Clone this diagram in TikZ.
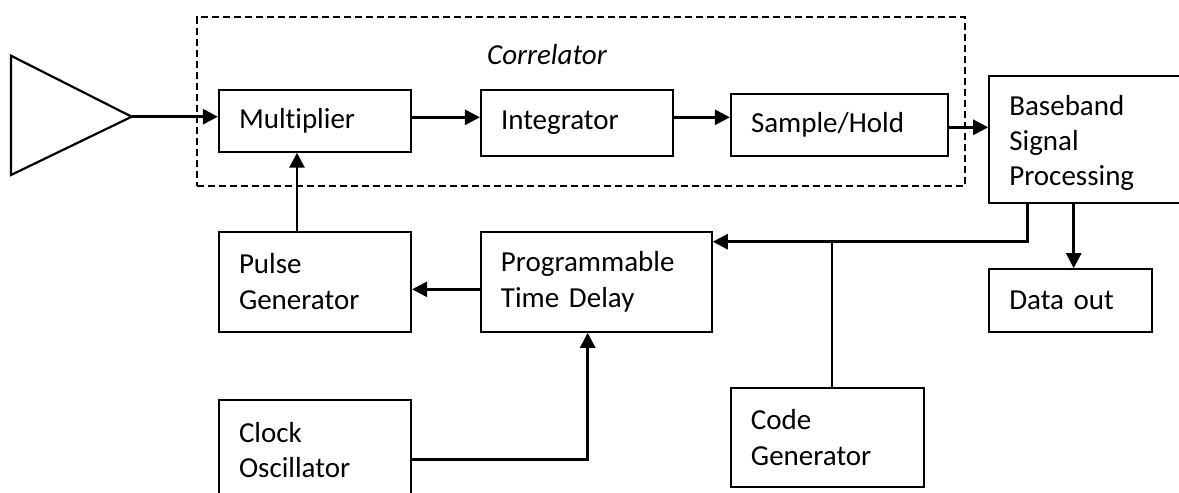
\documentclass[tikz,border=0pt]{standalone}
\usepackage{fontspec}
\setmainfont{Carlito}[Ligatures=NoCommon]
\usetikzlibrary{arrows.meta}

\tikzset{
  block/.style={draw, line width=2.2pt, inner xsep=20pt, inner ysep=0pt,
    align=left, font=\fontsize{29}{35.4}\selectfont},
  link/.style={line width=2.7pt, -{Triangle[length=15pt,width=15pt]}},
  tap/.style={line width=1.8pt},
  group/.style={draw, line width=1.8pt, dash pattern=on 7pt off 4pt,
    inner sep=0pt},
}

\begin{document}
\begin{tikzpicture}[x=1pt, y=-1pt]
  \useasboundingbox (0,0) rectangle (1179,493);
  \fill[white] (0,0) rectangle (1179,493);
  \clip (0,0) rectangle (1179,493);

  % correlator group
  \node[group, minimum width=768.3pt, minimum height=168.7pt] (corr) at (581.15,101.65) {};
  \node[anchor=base west, inner sep=0pt, font=\fontsize{29}{35.4}\selectfont\itshape]
    (corrlabel) at (487,64) {Correlator};

  % amplifier
  \draw[line width=2.2pt, line join=miter] (11,55.7) -- (11,175) -- (131.7,116.7) -- cycle;
  \coordinate (amp) at (131.7,116.7);

  % blocks
  \node[block, text width=152pt, minimum height=62pt] (mult) at (315,120.6) {Multiplier};
  \node[block, text width=152pt, minimum height=66pt] (integ) at (577,122.6) {Integrator};
  \node[block, text width=177pt, minimum height=62pt] (samp) at (839.5,124.7) {Sample/Hold};
  \node[block, text width=160pt, minimum height=127.6pt] (base) at (1089.3,139.5)
    {\rule{0pt}{27pt}Baseband\\Signal\\Processing};
  \node[block, text width=152pt, minimum height=100pt] (pulse) at (315,281.7) {Pulse\\Generator};
  \node[block, text width=190.7pt, minimum height=100pt] (prog) at (596.3,281.7) {Programmable\\Time Delay};
  \node[block, text width=152pt, minimum height=100pt] (clock) at (315,450) {Clock\\Oscillator};
  \node[block, text width=152.7pt, minimum height=99.6pt] (code) at (827.3,437.5) {Code\\Generator};
  \node[block, text width=122.4pt, minimum height=62.4pt] (data) at (1070.5,300.5) {Data out};

  % guide coordinates for connector rows and columns
  \coordinate (r1) at (0,117.3);
  \coordinate (r2) at (0,127.3);
  \coordinate (r3) at (0,289.3);
  \coordinate (r4) at (0,459.3);
  \coordinate (bus) at (0,241.7);
  \coordinate (c1) at (297,0);
  \coordinate (c2) at (587.7,0);
  \coordinate (c3) at (1027.7,0);
  \coordinate (c4) at (832,0);
  \coordinate (c5) at (1073.7,0);

  % connectors
  \draw[link] (amp) -- (amp -| mult.west);
  \draw[link] (mult.east |- r1) -- (integ.west |- r1);
  \draw[link] (integ.east |- r1) -- (samp.west |- r1);
  \draw[link] (samp.east |- r2) -- (base.west |- r2);
  \draw[link] (pulse.north -| c1) -- (mult.south -| c1);
  \draw[link] (prog.west |- r3) -- (pulse.east |- r3);
  \draw[link] (clock.east |- r4) -| (prog.south -| c2);
  \draw[link] (base.south -| c3) |- (prog.east |- bus);
  \draw[tap] (code.north -| c4) -- (bus -| c4);
  \draw[link] (base.south -| c5) -- (data.north -| c5);
\end{tikzpicture}
\end{document}
